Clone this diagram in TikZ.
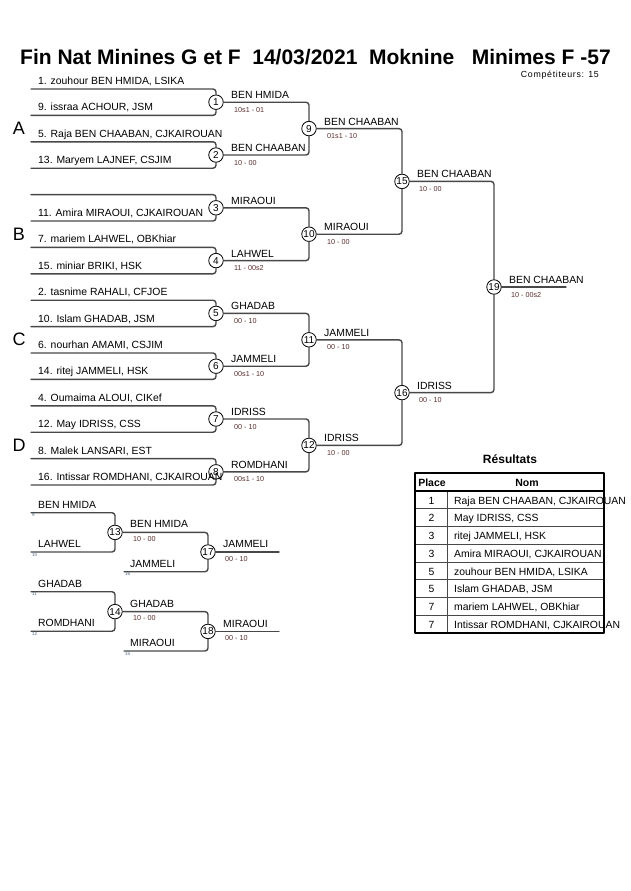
\documentclass[tikz,border=0pt]{standalone}
\usepackage{fontspec}
\setmainfont{Liberation Sans}
\usetikzlibrary{arrows}
\definecolor{lignegris}{RGB}{72,72,72}
\definecolor{scorecol}{RGB}{90,45,45}
\definecolor{petitnum}{RGB}{80,100,130}

\begin{document}
\begin{tikzpicture}[line cap=round,line join=round,x=1pt,y=-1pt,
	combat/.style={circle,draw=black,line width=0.8pt,inner sep=0pt,minimum size=14.5pt,font=\fontsize{10}{10}\selectfont},
	trait/.style={line width=1.4pt,color=lignegris,rounded corners=3pt},
	nom/.style={anchor=base west,inner sep=0pt,font=\fontsize{10.4}{12}\selectfont},
	score/.style={anchor=base west,inner sep=0pt,text=scorecol,font=\fontsize{7.2}{8}\selectfont},
	rang/.style={anchor=base west,inner sep=0pt,text=petitnum,font=\fontsize{4.5}{5}\selectfont},
	poule/.style={inner sep=0pt,font=\fontsize{18}{18}\selectfont}]
			\useasboundingbox (0,0) rectangle (630,891);
			% titre
			\node[anchor=base west,inner sep=0pt,font=\bfseries\fontsize{21}{22}\selectfont] (titre) at (20,64) {Fin Nat Minines G et F\ \ 14/03/2021\ \ Moknine\ \ \ Minimes F -57};
			\node[anchor=base east,inner sep=0pt,font=\fontsize{8.8}{9}\selectfont\addfontfeature{LetterSpace=8}] (nbcomp) at (599,77.3) {Compétiteurs: 15};
			% poules
			\node[poule] (pA) at (19,128.5) {A};
			\node[poule] (pB) at (19,234) {B};
			\node[poule] (pC) at (19,339.5) {C};
			\node[poule] (pD) at (19,445) {D};
			% combats
			\node[combat] (m1) at (216,102.2) {1};
			\node[combat] (m2) at (216,155) {2};
			\node[combat] (m3) at (216,207.8) {3};
			\node[combat] (m4) at (216,260.6) {4};
			\node[combat] (m5) at (216,313.4) {5};
			\node[combat] (m6) at (216,366.2) {6};
			\node[combat] (m7) at (216,419) {7};
			\node[combat] (m8) at (216,471.8) {8};
			\node[combat] (m9) at (309,128.6) {9};
			\node[combat] (m10) at (309,234.2) {10};
			\node[combat] (m11) at (309,339.8) {11};
			\node[combat] (m12) at (309,445.4) {12};
			\node[combat] (m15) at (402,181.4) {15};
			\node[combat] (m16) at (402,392.6) {16};
			\node[combat] (m19) at (494,287) {19};
			% tableau principal
			\coordinate (c0) at (31,89);
			\coordinate (c1) at (31,115.4);
			\coordinate (c2) at (31,141.8);
			\coordinate (c3) at (31,168.2);
			\coordinate (c4) at (31,194.6);
			\coordinate (c5) at (31,221);
			\coordinate (c6) at (31,247.4);
			\coordinate (c7) at (31,273.8);
			\coordinate (c8) at (31,300.2);
			\coordinate (c9) at (31,326.6);
			\coordinate (c10) at (31,353);
			\coordinate (c11) at (31,379.4);
			\coordinate (c12) at (31,405.8);
			\coordinate (c13) at (31,432.2);
			\coordinate (c14) at (31,458.6);
			\coordinate (c15) at (31,485);
			\coordinate (fin) at (566,287);
			\draw [trait] (c0) -| (m1);
			\draw [trait] (c1) -| (m1);
			\draw [trait] (c2) -| (m2);
			\draw [trait] (c3) -| (m2);
			\draw [trait] (c4) -| (m3);
			\draw [trait] (c5) -| (m3);
			\draw [trait] (c6) -| (m4);
			\draw [trait] (c7) -| (m4);
			\draw [trait] (c8) -| (m5);
			\draw [trait] (c9) -| (m5);
			\draw [trait] (c10) -| (m6);
			\draw [trait] (c11) -| (m6);
			\draw [trait] (c12) -| (m7);
			\draw [trait] (c13) -| (m7);
			\draw [trait] (c14) -| (m8);
			\draw [trait] (c15) -| (m8);
			\draw [trait] (m1) -| (m9);
			\draw [trait] (m2) -| (m9);
			\draw [trait] (m3) -| (m10);
			\draw [trait] (m4) -| (m10);
			\draw [trait] (m5) -| (m11);
			\draw [trait] (m6) -| (m11);
			\draw [trait] (m7) -| (m12);
			\draw [trait] (m8) -| (m12);
			\draw [trait] (m9) -| (m15);
			\draw [trait] (m10) -| (m15);
			\draw [trait] (m11) -| (m16);
			\draw [trait] (m12) -| (m16);
			\draw [trait] (m15) -| (m19);
			\draw [trait] (m16) -| (m19);
			\draw [trait] (m19) -- (fin);
			% competiteurs
			\node[nom] (j0) at (38,84.5) {1. zouhour BEN HMIDA, LSIKA};
			\node[nom] (j1) at (38,110.9) {9. issraa ACHOUR, JSM};
			\node[nom] (j2) at (38,137.3) {5. Raja BEN CHAABAN, CJKAIROUAN};
			\node[nom] (j3) at (38,163.7) {13. Maryem LAJNEF, CSJIM};
			\node[nom] (j5) at (38,216.5) {11. Amira MIRAOUI, CJKAIROUAN};
			\node[nom] (j6) at (38,242.9) {7. mariem LAHWEL, OBKhiar};
			\node[nom] (j7) at (38,269.3) {15. miniar BRIKI, HSK};
			\node[nom] (j8) at (38,295.7) {2. tasnime RAHALI, CFJOE};
			\node[nom] (j9) at (38,322.1) {10. Islam GHADAB, JSM};
			\node[nom] (j10) at (38,348.5) {6. nourhan AMAMI, CSJIM};
			\node[nom] (j11) at (38,374.9) {14. ritej JAMMELI, HSK};
			\node[nom] (j12) at (38,401.3) {4. Oumaima ALOUI, CIKef};
			\node[nom] (j13) at (38,427.7) {12. May IDRISS, CSS};
			\node[nom] (j14) at (38,454.1) {8. Malek LANSARI, EST};
			\node[nom] (j15) at (38,480.5) {16. Intissar ROMDHANI, CJKAIROUAN};
			% vainqueurs et scores
			\node[nom] (v1) at (231,98.7) {BEN HMIDA};
			\node[score] (s1) at (234,112.2) {10s1 - 01};
			\node[nom] (v2) at (231,151.5) {BEN CHAABAN};
			\node[score] (s2) at (234,165) {10 - 00};
			\node[nom] (v3) at (231,204.3) {MIRAOUI};
			\node[nom] (v4) at (231,257.1) {LAHWEL};
			\node[score] (s4) at (234,270.6) {11 - 00s2};
			\node[nom] (v5) at (231,309.9) {GHADAB};
			\node[score] (s5) at (234,323.4) {00 - 10};
			\node[nom] (v6) at (231,362.7) {JAMMELI};
			\node[score] (s6) at (234,376.2) {00s1 - 10};
			\node[nom] (v7) at (231,415.5) {IDRISS};
			\node[score] (s7) at (234,429) {00 - 10};
			\node[nom] (v8) at (231,468.3) {ROMDHANI};
			\node[score] (s8) at (234,481.8) {00s1 - 10};
			\node[nom] (v9) at (324,125.1) {BEN CHAABAN};
			\node[score] (s9) at (327,138.6) {01s1 - 10};
			\node[nom] (v10) at (324,230.7) {MIRAOUI};
			\node[score] (s10) at (327,244.2) {10 - 00};
			\node[nom] (v11) at (324,336.3) {JAMMELI};
			\node[score] (s11) at (327,349.8) {00 - 10};
			\node[nom] (v12) at (324,441.9) {IDRISS};
			\node[score] (s12) at (327,455.4) {10 - 00};
			\node[nom] (v15) at (417,177.9) {BEN CHAABAN};
			\node[score] (s15) at (419,191.4) {10 - 00};
			\node[nom] (v16) at (417,389.1) {IDRISS};
			\node[score] (s16) at (419,402.6) {00 - 10};
			\node[nom] (v19) at (509,283.5) {BEN CHAABAN};
			\node[score] (s19) at (511,297) {10 - 00s2};
			% repechages
			\node[combat] (m13) at (115,532.4) {13};
			\node[combat] (m17) at (208,552) {17};
			\node[combat] (m14) at (115,611.6) {14};
			\node[combat] (m18) at (208,631.4) {18};
			\coordinate (r9) at (31,512.7);
			\coordinate (r10) at (31,552);
			\coordinate (r16) at (124,571.7);
			\coordinate (r11) at (31,591.7);
			\coordinate (r12) at (31,631.2);
			\coordinate (r15) at (124,651);
			\coordinate (fin17) at (279,552);
			\coordinate (fin18) at (279,631.4);
			\draw [trait] (r9) -| (m13);
			\draw [trait] (r10) -| (m13);
			\draw [trait] (m13) -| (m17);
			\draw [trait] (r16) -| (m17);
			\draw [trait] (m17) -- (fin17);
			\draw [trait] (r11) -| (m14);
			\draw [trait] (r12) -| (m14);
			\draw [trait] (m14) -| (m18);
			\draw [trait] (r15) -| (m18);
			\draw [trait] (m18) -- (fin18);
			\node[nom] (rj9) at (38,508.3) {BEN HMIDA};
			\node[rang] (rn9) at (32,516.8) {9};
			\node[nom] (rj10) at (38,547.5) {LAHWEL};
			\node[rang] (rn10) at (32,556.1) {10};
			\node[nom] (rj16) at (130,567.3) {JAMMELI};
			\node[rang] (rn16) at (125,575.8) {16};
			\node[nom] (v13) at (130,527.6) {BEN HMIDA};
			\node[score] (s13) at (133,541) {10 - 00};
			\node[nom] (v17) at (223,547.5) {JAMMELI};
			\node[score] (s17) at (225,561) {00 - 10};
			\node[nom] (rj11) at (38,587.3) {GHADAB};
			\node[rang] (rn11) at (32,595.8) {11};
			\node[nom] (rj12) at (38,626.8) {ROMDHANI};
			\node[rang] (rn12) at (32,635.3) {12};
			\node[nom] (rj15) at (130,646.6) {MIRAOUI};
			\node[rang] (rn15) at (125,655.1) {15};
			\node[nom] (v14) at (130,607.2) {GHADAB};
			\node[score] (s14) at (133,620.6) {10 - 00};
			\node[nom] (v18) at (223,627) {MIRAOUI};
			\node[score] (s18) at (225,640.4) {00 - 10};
			% resultats
			\node[anchor=base,inner sep=0pt,font=\bfseries\fontsize{12}{13}\selectfont] (res) at (510,463.3) {Résultats};
			\draw [line width=1pt,color=lignegris] (415,508.75)-- (604,508.75);
			\draw [line width=1pt,color=lignegris] (415,526.5)-- (604,526.5);
			\draw [line width=1pt,color=lignegris] (415,544.25)-- (604,544.25);
			\draw [line width=1pt,color=lignegris] (415,562)-- (604,562);
			\draw [line width=1pt,color=lignegris] (415,579.75)-- (604,579.75);
			\draw [line width=1pt,color=lignegris] (415,597.5)-- (604,597.5);
			\draw [line width=1pt,color=lignegris] (415,615.25)-- (604,615.25);
			\draw [line width=1pt,color=lignegris] (447.3,491)-- (447.3,633);
			\draw [line width=1.6pt] (415,491)-- (604,491);
			\draw [line width=1.6pt] (415,473) rectangle (604,633);
			\node[anchor=base,inner sep=0pt,font=\bfseries\fontsize{10.5}{12}\selectfont] (hplace) at (432,486) {Place};
			\node[anchor=base,inner sep=0pt,font=\bfseries\fontsize{10.5}{12}\selectfont] (hnom) at (527,486) {Nom};
			\node[anchor=base,inner sep=0pt,font=\fontsize{10.4}{12}\selectfont] (pl1) at (431.5,504) {1};
			\node[anchor=base,inner sep=0pt,font=\fontsize{10.4}{12}\selectfont] (pl2) at (431.5,521.75) {2};
			\node[anchor=base,inner sep=0pt,font=\fontsize{10.4}{12}\selectfont] (pl3) at (431.5,539.5) {3};
			\node[anchor=base,inner sep=0pt,font=\fontsize{10.4}{12}\selectfont] (pl4) at (431.5,557.25) {3};
			\node[anchor=base,inner sep=0pt,font=\fontsize{10.4}{12}\selectfont] (pl5) at (431.5,575) {5};
			\node[anchor=base,inner sep=0pt,font=\fontsize{10.4}{12}\selectfont] (pl6) at (431.5,592.75) {5};
			\node[anchor=base,inner sep=0pt,font=\fontsize{10.4}{12}\selectfont] (pl7) at (431.5,610.5) {7};
			\node[anchor=base,inner sep=0pt,font=\fontsize{10.4}{12}\selectfont] (pl8) at (431.5,628.25) {7};
			\node[nom] (n1) at (454,504) {Raja BEN CHAABAN, CJKAIROUAN};
			\node[nom] (n2) at (454,521.75) {May IDRISS, CSS};
			\node[nom] (n3) at (454,539.5) {ritej JAMMELI, HSK};
			\node[nom] (n4) at (454,557.25) {Amira MIRAOUI, CJKAIROUAN};
			\node[nom] (n5) at (454,575) {zouhour BEN HMIDA, LSIKA};
			\node[nom] (n6) at (454,592.75) {Islam GHADAB, JSM};
			\node[nom] (n7) at (454,610.5) {mariem LAHWEL, OBKhiar};
			\node[nom] (n8) at (454,628.25) {Intissar ROMDHANI, CJKAIROUAN};
		\end{tikzpicture}
\end{document}
